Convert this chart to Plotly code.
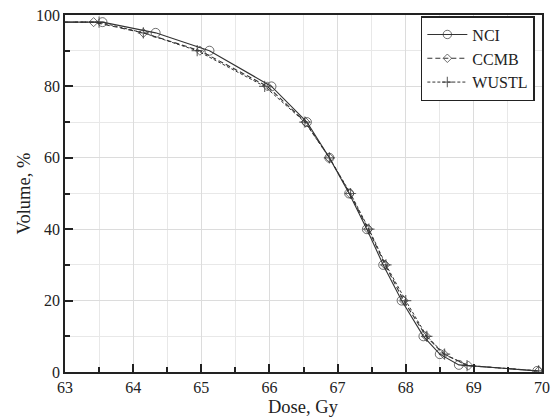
import plotly.graph_objects as go

nci_dose = [63.0, 63.55, 64.33, 65.12, 66.03, 66.55, 66.88, 67.17, 67.43, 67.67, 67.94, 68.26, 68.50, 68.78, 69.93]
nci_vol = [98, 98, 95, 90, 80, 70, 60, 50, 40, 30, 20, 10, 5, 2, 0.3]

ccmb_dose = [63.0, 63.42, 64.15, 64.98, 65.97, 66.53, 66.88, 67.18, 67.45, 67.70, 67.97, 68.30, 68.56, 68.92, 69.95]
ccmb_vol = [98, 98, 95, 90, 80, 70, 60, 50, 40, 30, 20, 10, 5, 1.8, 0.3]

wustl_dose = [63.0, 63.50, 64.15, 64.94, 65.93, 66.52, 66.88, 67.19, 67.46, 67.71, 68.00, 68.31, 68.57, 68.90, 69.95]
wustl_vol = [98, 98, 95, 90, 80, 70, 60, 50, 40, 30, 20, 10, 5, 1.8, 0.3]

x_ticks = [63, 64, 65, 66, 67, 68, 69, 70]
y_ticks = [0, 20, 40, 60, 80, 100]
x_title = "Dose, Gy"
y_title = "Volume, %"

font = "Liberation Serif"
col = "#333333"
txt = "#222222"

def sizes(n, s):
    return [0] + [s] * (n - 1)

fig = go.Figure()
fig.add_trace(go.Scatter(
    x=nci_dose, y=nci_vol, name="NCI", mode="lines+markers",
    line=dict(color=col, width=1.1, dash="solid"),
    marker=dict(symbol="circle-open", size=sizes(len(nci_dose), 9), color=col, line=dict(width=1))))
fig.add_trace(go.Scatter(
    x=ccmb_dose, y=ccmb_vol, name="CCMB", mode="lines+markers",
    line=dict(color=col, width=1.1, dash="5px,3px"),
    marker=dict(symbol="diamond-open", size=sizes(len(ccmb_dose), 7), color=col, line=dict(width=1))))
fig.add_trace(go.Scatter(
    x=wustl_dose, y=wustl_vol, name="WUSTL", mode="lines+markers",
    line=dict(color=col, width=1, dash="3px,2px"),
    marker=dict(symbol="cross-thin-open", size=sizes(len(wustl_dose), 8), color=col, line=dict(width=1.2, color=col))))

axis_common = dict(
    showline=True, linecolor=txt, linewidth=1.5, mirror=True,
    ticks="inside", ticklen=8, tickwidth=1.5, tickcolor=txt,
    showgrid=True, gridcolor="#dcdcdc", gridwidth=1, zeroline=False,
    tickfont=dict(family=font, size=16, color=txt),
    automargin=False, ticklabeloverflow="allow",
)

fig.update_xaxes(
    range=[63, 70], tickvals=x_ticks, ticktext=[str(v) for v in x_ticks],
    minor=dict(dtick=0.5, ticks="inside", ticklen=5, tickwidth=1.5, tickcolor=txt, showgrid=True, gridcolor="#e8e8e8"),
    **axis_common)
fig.update_yaxes(
    range=[0, 100], tickvals=y_ticks, ticktext=[str(v) for v in y_ticks],
    minor=dict(dtick=10, ticks="inside", ticklen=5, tickwidth=1.5, tickcolor=txt, showgrid=True, gridcolor="#e8e8e8"),
    **axis_common)

fig.add_annotation(text=x_title, xref="paper", yref="paper", x=0.5, y=0,
                   xanchor="center", yanchor="middle", yshift=-35, showarrow=False,
                   font=dict(family=font, size=18.5, color=txt))
fig.add_annotation(text=y_title, xref="paper", yref="paper", x=0, y=0.5,
                   xanchor="center", yanchor="middle", xshift=-42, textangle=-90, showarrow=False,
                   font=dict(family=font, size=18.5, color=txt))

fig.update_layout(
    width=556, height=418,
    margin=dict(l=65, r=14, t=15, b=46),
    plot_bgcolor="white", paper_bgcolor="white",
    font=dict(family=font, size=16, color=txt),
    legend=dict(x=0.985, y=0.997, xanchor="right", yanchor="top",
                bgcolor="white", bordercolor=txt, borderwidth=1.5,
                font=dict(family=font, size=16, color=txt),
                tracegroupgap=0, itemwidth=40),
    showlegend=True,
)

fig.write_html("out.html", config={"displayModeBar": False},
               post_script="document.body.style.margin='0px';")
